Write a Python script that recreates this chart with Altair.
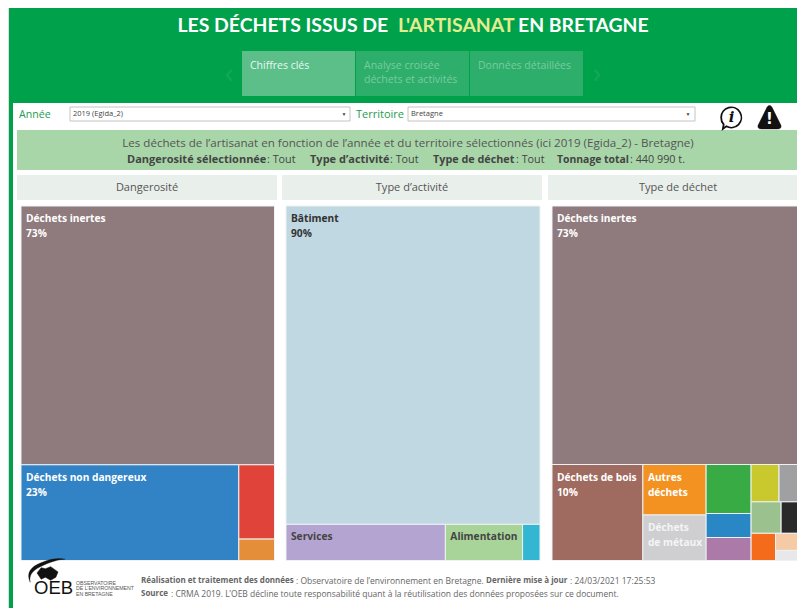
import altair as alt
import pandas as pd

TITLE_PARTS = ["LES DÉCHETS ISSUS DE", "L'ARTISANAT", "EN BRETAGNE"]
TABS = ["Chiffres clés", "Analyse croisée", "déchets et activités", "Données détaillées"]
BANNER = "Les déchets de l’artisanat en fonction de l’année et du territoire sélectionnés (ici 2019 (Egida_2) - Bretagne)"
HEADERS = ["Dangerosité", "Type d’activité", "Type de déchet"]

DANGER_NAMES = ["Déchets inertes", "Déchets non dangereux", "Déchets dangereux", "Autres"]
DANGER_SHARES = [73.0, 23.2, 2.95, 0.85]
DANGER_COLORS = ["#8F7A7E", "#3183C5", "#E0433A", "#E58E3A"]

ACTIVITY_NAMES = ["Bâtiment", "Services", "Alimentation", "Autres activités"]
ACTIVITY_SHARES = [89.8, 6.4, 3.1, 0.7]
ACTIVITY_COLORS = ["#C0D8E2", "#B3A4D1", "#A8D49A", "#33B6D2"]

WASTE_NAMES = ["Déchets inertes", "Déchets de bois", "Autres déchets", "Déchets de métaux",
               "Vert", "Bleu", "Violet", "Jaune", "Gris", "Vert clair", "Noir", "Orange", "Pêche", "Gris clair"]
WASTE_SHARES = [73.0, 9.7, 3.55, 3.2, 2.45, 1.2, 1.15, 1.16, 1.12, 1.05, 0.87, 0.74, 0.58, 0.34]
WASTE_COLORS = ["#8F7A7E", "#9F6A60", "#F39221", "#CFCFD1", "#38AB45", "#2A87C5", "#AC7AA8",
                "#C9C82D", "#A0A0A2", "#9BC18E", "#2A2A2A", "#F46C1B", "#F5CBA7", "#E8E8EA"]

GREEN = "#00A14B"
TEXT = "#555555"
W, H = 789, 600
xs = alt.Scale(domain=[8, 797], nice=False, zero=False)
ys = alt.Scale(domain=[608, 8], nice=False, zero=False)


def split(node, shares, box, out):
    x0, y0, x1, y1 = box
    if isinstance(node, int):
        out.append((node, x0, y0, x1, y1))
        return shares[node]
    orient, kids = node

    def total(n):
        return shares[n] if isinstance(n, int) else sum(total(k) for k in n[1])

    t = sum(total(k) for k in kids)
    pos = x0 if orient == "h" else y0
    for k in kids:
        frac = total(k) / t
        if orient == "h":
            nxt = pos + (x1 - x0) * frac
            split(k, shares, (pos, y0, nxt, y1), out)
        else:
            nxt = pos + (y1 - y0) * frac
            split(k, shares, (x0, pos, x1, nxt), out)
        pos = nxt


def rects(rows, **kw):
    df = pd.DataFrame(rows, columns=["x0", "y0", "x1", "y1", "c"])
    return alt.Chart(df).mark_rect(**kw).encode(
        x=alt.X("x0:Q", scale=xs, axis=None), x2="x1:Q",
        y=alt.Y("y0:Q", scale=ys, axis=None), y2="y1:Q",
        fill=alt.Fill("c:N", scale=None))


def txt(s, x, y, size=11, color=TEXT, align="left", weight="normal", font="Open Sans", **kw):
    df = pd.DataFrame({"x": [x], "y": [y + 0.8], "t": [s]})
    return alt.Chart(df).mark_text(fontSize=size, color=color, align=align, baseline="middle",
                                   fontWeight=weight, font=font, **kw).encode(
        x=alt.X("x:Q", scale=xs, axis=None), y=alt.Y("y:Q", scale=ys, axis=None), text="t:N")


def sym(path, x, y, w, **kw):
    df = pd.DataFrame({"x": [x], "y": [y]})
    return alt.Chart(df).mark_point(shape=path, size=w * w, **kw).encode(
        x=alt.X("x:Q", scale=xs, axis=None), y=alt.Y("y:Q", scale=ys, axis=None))


layers = []
layers.append(rects([
    (9, 8, 805, 103, GREEN), (9, 103, 13, 608, GREEN),
    (242, 51, 355, 96, "#5CBF8A"), (356, 51, 469, 96, "#2EAE6B"), (470, 51, 583, 96, "#2EAE6B"),
    (17, 130, 803, 170, "#A9D6A9"),
    (17, 175, 277, 200, "#E9EFEB"), (282, 175, 542, 200, "#E9EFEB"), (548, 175, 805, 200, "#E9EFEB"),
]))
layers.append(rects([(70, 107, 350, 121, "#FFFFFF"), (408, 107, 695, 121, "#FFFFFF")],
                    stroke="#C4C4C4", strokeWidth=1))

PANELS = [
    (DANGER_NAMES, DANGER_SHARES, DANGER_COLORS, (21, 206, 274.5, 560.5),
     ("v", [0, ("h", [1, ("v", [2, 3])])])),
    (ACTIVITY_NAMES, ACTIVITY_SHARES, ACTIVITY_COLORS, (286, 206, 540, 560.5),
     ("v", [0, ("h", [1, 2, 3])])),
    (WASTE_NAMES, WASTE_SHARES, WASTE_COLORS, (552, 206, 806, 560.5),
     ("v", [0, ("h", [1, ("v", [2, 3]), ("v", [4, 5, 6]),
                      ("v", [("h", [7, 8]), ("h", [9, 10]), ("h", [11, ("v", [12, 13])])])])])),
]
LABELS = {
    "Déchets inertes": (["Déchets inertes", "73%"], "#FFFFFF"),
    "Déchets non dangereux": (["Déchets non dangereux", "23%"], "#FFFFFF"),
    "Bâtiment": (["Bâtiment", "90%"], "#333333"),
    "Services": (["Services"], "#444444"),
    "Alimentation": (["Alimentation"], "#444444"),
    "Déchets de bois": (["Déchets de bois", "10%"], "#FFFFFF"),
    "Autres déchets": (["Autres", "déchets"], "#FFFFFF"),
    "Déchets de métaux": (["Déchets", "de métaux"], "#F4F4F4"),
}
tile_text = []
for names, shares, colors, box, tree in PANELS:
    out = []
    split(tree, shares, box, out)
    layers.append(rects([(a, b, c, d, colors[i]) for i, a, b, c, d in out],
                        stroke="#EEF2F4", strokeWidth=1))
    for i, a, b, c, d in out:
        if names[i] in LABELS:
            lines, col = LABELS[names[i]]
            for k, line in enumerate(lines):
                tile_text.append(txt(line, a + 5, b + 12.2 + 15 * k, size=10.2, color=col, weight="bold"))
layers += tile_text

layers.append(txt(TITLE_PARTS[0], 177.5, 24.7, size=19.4, color="#FFFFFF", weight="bold", font="Lato"))
layers.append(txt(TITLE_PARTS[1], 398, 24.7, size=19.4, color="#E6EC8E", weight="bold", font="Lato"))
layers.append(txt(TITLE_PARTS[2], 518, 24.7, size=19.4, color="#FFFFFF", weight="bold", font="Lato"))

layers.append(txt(TABS[0], 250, 65.5, size=10.5, color="#EAF7F0"))
layers.append(txt(TABS[1], 364, 65.5, size=10.5, color="#7CCBA0"))
layers.append(txt(TABS[2], 364, 79.5, size=10.5, color="#7CCBA0"))
layers.append(txt(TABS[3], 478, 65.5, size=10.5, color="#7CCBA0"))
layers.append(txt("‹", 229, 73, size=30, color="#12A858", align="center"))
layers.append(txt("›", 597, 73, size=30, color="#12A858", align="center"))

layers.append(txt("Année", 19, 114.5, size=10.6, color="#1E9B50"))
layers.append(txt("Territoire", 356, 114.5, size=11, color="#1E9B50"))
layers.append(txt("2019 (Egida_2)", 73, 113.5, size=7.5, color="#444444"))
layers.append(txt("Bretagne", 411, 113.5, size=7.5, color="#444444"))
layers.append(txt("▼", 344, 113.5, size=5, color="#444444", align="center"))
layers.append(txt("▼", 688, 113.5, size=5, color="#444444", align="center"))

layers.append(sym("M-0.9,-0.05 A0.88,0.88 0 1,1 -0.45,0.72 L-0.75,0.95 L-0.68,0.55 A0.88,0.88 0 0,1 -0.9,-0.05", 731.5, 118, 23,
                  filled=False, stroke="#111111", strokeWidth=1.8, opacity=1))
layers.append(txt("i", 731.5, 116.5, size=15, color="#111111", weight="bold", align="center",
                  font="DejaVu Serif", fontStyle="italic"))
layers.append(sym("M0,-1 C0.12,-1 0.2,-0.9 0.28,-0.7 L0.95,0.65 C1,0.85 0.9,0.95 0.7,0.95 L-0.7,0.95 C-0.9,0.95 -1,0.85 -0.95,0.65 L-0.28,-0.7 C-0.2,-0.9 -0.12,-1 0,-1 Z",
                  769.5, 117.5, 24, filled=True, fill="#111111", stroke="#111111", strokeWidth=0.5, opacity=1))
layers.append(txt("!", 769.5, 118.5, size=15, color="#FFFFFF", weight="bold", align="center", font="DejaVu Sans"))

layers.append(txt(BANNER, 408, 143.5, size=11.6, color="#555555", align="center"))
for s, x, size, bold in [("Dangerosité sélectionnée", 127, 11, True), (": Tout", 267, 10.8, False),
                         ("Type d’activité", 310, 11, True), (": Tout", 390, 10.8, False),
                         ("Type de déchet", 433, 10.8, True), (": Tout", 516, 10.8, False),
                         ("Tonnage total", 557, 10.4, True), (": 440 990 t.", 630, 10.8, False)]:
    layers.append(txt(s, x, 159.5, size=size, color="#444444", weight="bold" if bold else "normal"))

for s, x in zip(HEADERS, [147, 412, 678]):
    layers.append(txt(s, x, 187.5, size=11, color="#555555", align="center"))

layers.append(sym("M-0.88,0.6 C-1.05,0.25 -1,-0.1 -0.5,-0.35 C-0.1,-0.55 0.5,-0.75 0.95,-0.62 C0.6,-0.62 0.1,-0.45 -0.35,-0.22 C-0.8,0 -0.95,0.25 -0.88,0.6 Z",
                  47, 571, 38, filled=True, fill="#111111", stroke="#111111", strokeWidth=0.3, opacity=1))
layers.append(sym("M-1,-0.1 L-0.6,-0.6 L-0.2,-0.5 L0.3,-0.7 L1,-0.2 L0.8,0.3 L0.3,0.6 L-0.2,0.3 L-0.6,0.5 Z",
                  47.5, 574, 21, filled=True, fill="#111111", stroke="#111111", strokeWidth=0.5, opacity=1))
layers.append(txt("OEB", 34, 587.5, size=18.5, color="#111111", font="Liberation Sans"))
for k, s in enumerate(["OBSERVATOIRE", "DE L’ENVIRONNEMENT", "EN BRETAGNE"]):
    layers.append(txt(s, 76, 582 + 5.5 * k, size=5.2, color="#555555", font="Liberation Sans"))

for s, x, y, b in [("Réalisation et traitement des données", 141, 579.7, True),
                   (": Observatoire de l’environnement en Bretagne.", 296, 579.7, False),
                   ("Dernière mise à jour", 486, 579.7, True),
                   (": 24/03/2021 17:25:53", 570, 579.7, False),
                   ("Source", 141, 592.7, True),
                   (": CRMA 2019. L’OEB décline toute responsabilité quant à la réutilisation des données proposées sur ce document.", 171, 592.7, False)]:
    layers.append(txt(s, x, y, size=8 if b else 8.5, color="#666666", weight="bold" if b else "normal"))

chart = alt.layer(*layers).properties(
    width=W, height=H, padding=0, autosize=alt.AutoSizeParams(type="none"),
).configure_view(stroke=None).configure(background="#FFFFFF")
chart.save("out.html", embed_options={"renderer": "svg", "actions": False})
